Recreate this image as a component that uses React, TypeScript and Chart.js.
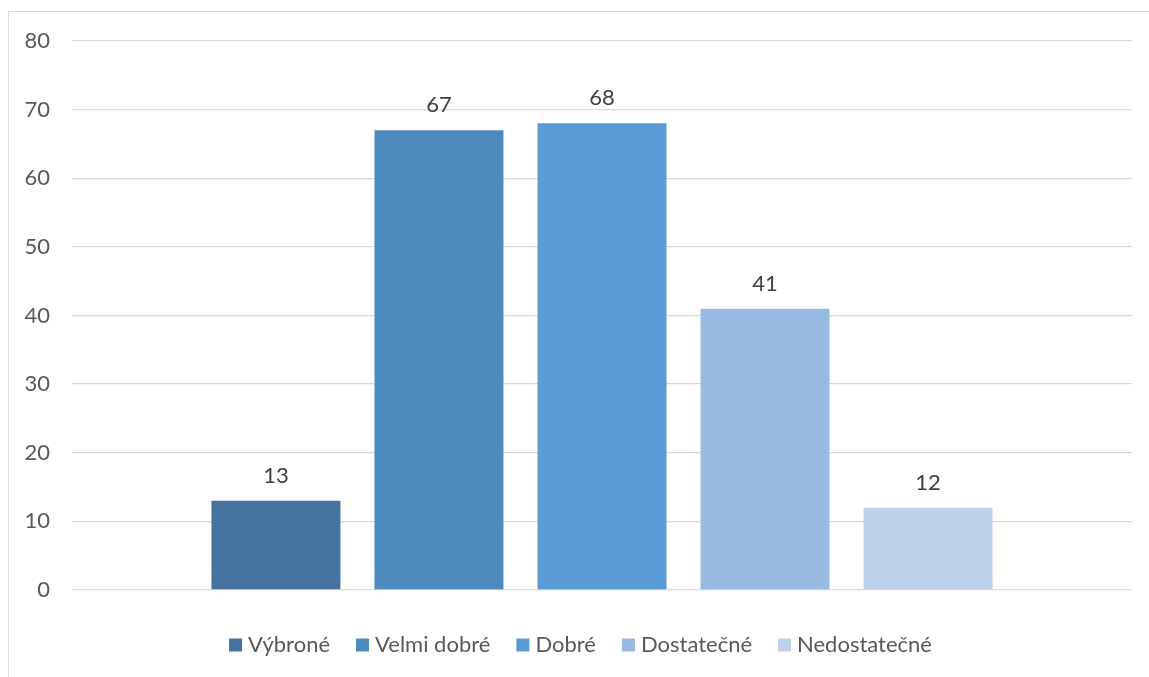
import React, { useEffect, useRef } from "react";
import { Chart, registerables } from "chart.js";

Chart.register(...registerables);

const categories: string[] = [""];
const seriesNames: string[] = ["Výbroné", "Velmi dobré", "Dobré", "Dostatečné", "Nedostatečné"];
const seriesValues: number[] = [13, 67, 68, 41, 12];
const seriesColors: string[] = ["#43739E", "#4F8ABE", "#5B9BD5", "#98B9E0", "#BDD1EA"];
const yTicks: number[] = [0, 10, 20, 30, 40, 50, 60, 70, 80];

const FONT = "Lato";
const FONT_SIZE = 22;

const dataLabelPlugin = {
  id: "dataLabels",
  afterDatasetsDraw(chart: any) {
    const ctx = chart.ctx;
    ctx.save();
    ctx.font = `${FONT_SIZE}px ${FONT}`;
    ctx.fillStyle = "#404040";
    ctx.textAlign = "center";
    ctx.textBaseline = "middle";
    chart.data.datasets.forEach((ds: any, i: number) => {
      const meta = chart.getDatasetMeta(i);
      meta.data.forEach((bar: any, j: number) => {
        ctx.fillText(String(ds.data[j]), bar.x, bar.y - 25);
      });
    });
    ctx.restore();
  },
};

// Excel-style legend: small square, short gap, label, wider gap between items
const legendPlugin = {
  id: "excelLegend",
  afterDraw(chart: any) {
    const ctx = chart.ctx;
    const box = 13;
    const boxGap = 6;
    const itemGap = 26;
    const yCenter = chart.chartArea.bottom + 55;
    ctx.save();
    ctx.font = `${FONT_SIZE}px ${FONT}`;
    ctx.textBaseline = "middle";
    ctx.textAlign = "left";
    const items = chart.data.datasets.map((ds: any) => ({
      text: ds.label,
      color: ds.backgroundColor,
      w: ctx.measureText(ds.label).width,
    }));
    const total =
      items.reduce((s: number, it: any) => s + box + boxGap + it.w, 0) + itemGap * (items.length - 1);
    const center = (chart.chartArea.left + chart.chartArea.right) / 2 - 21.5;
    let x = center - total / 2;
    items.forEach((it: any) => {
      ctx.fillStyle = it.color;
      ctx.fillRect(x, yCenter - box / 2, box, box);
      ctx.fillStyle = "#595959";
      ctx.fillText(it.text, x + box + boxGap, yCenter);
      x += box + boxGap + it.w + itemGap;
    });
    ctx.restore();
  },
};

export default function App() {
  const ref = useRef<HTMLCanvasElement | null>(null);
  useEffect(() => {
    if (!ref.current) return;
    const chart = new Chart(ref.current, {
      type: "bar",
      data: {
        labels: categories,
        datasets: seriesNames.map((name, i) => ({
          label: name,
          data: [seriesValues[i]],
          backgroundColor: seriesColors[i],
          borderWidth: 0,
          categoryPercentage: 0.769,
          barPercentage: 0.791,
        })),
      },
      options: {
        animation: false,
        responsive: false,
        maintainAspectRatio: false,
        layout: { padding: { left: 0, right: 17, top: 41, bottom: 87 } },
        plugins: {
          tooltip: { enabled: false },
          legend: { display: false },
        },
        scales: {
          x: {
            display: false,
          },
          y: {
            min: 0,
            max: 80,
            afterBuildTicks(scale: any) {
              scale.ticks = yTicks.map((v) => ({ value: v }));
            },
            ticks: {
              font: { family: FONT, size: FONT_SIZE },
              color: "#595959",
              padding: 22,
            },
            grid: { color: "#D9D9D9", lineWidth: 1.3, drawTicks: false },
            border: { display: false },
            afterFit(scale: any) {
              scale.width = 72;
            },
          },
        },
      },
      plugins: [dataLabelPlugin, legendPlugin],
    });
    return () => chart.destroy();
  }, []);

  return (
    <div>
      <div
        style={{
          position: "fixed",
          left: 8,
          top: 11,
          width: 1200,
          height: 700,
          border: "1px solid #D9D9D9",
        }}
      />
      <canvas
        ref={ref}
        width={1149}
        height={677}
        style={{ position: "fixed", left: 0, top: 0, width: 1149, height: 677 }}
      />
    </div>
  );
}
